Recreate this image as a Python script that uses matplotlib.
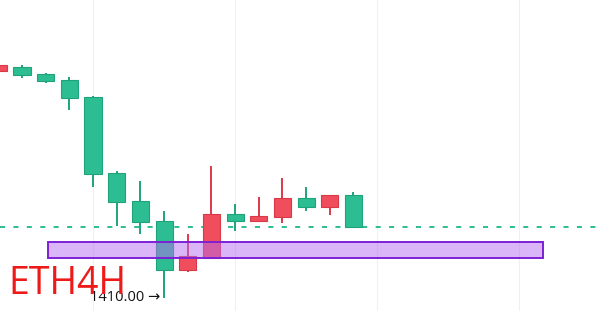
import matplotlib
matplotlib.use("Agg")
import matplotlib.pyplot as plt
from matplotlib.patches import Rectangle

# ---- data (ETH 4H candles) ----
opens  = [1864.0, 1872.0, 1856.8, 1845.4, 1812.0, 1658.8, 1604.0, 1562.8, 1465.4, 1488.8, 1576.8, 1563.4, 1572.0, 1608.8, 1592.0, 1615.4]
closes = [1875.4, 1855.4, 1844.0, 1810.0, 1657.4, 1602.0, 1560.8, 1465.4, 1493.4, 1576.8, 1563.4, 1573.4, 1608.8, 1592.0, 1615.4, 1552.0]
highs  = [1877.4, 1875.4, 1858.8, 1850.8, 1813.4, 1663.4, 1644.0, 1583.4, 1537.4, 1673.4, 1596.8, 1610.8, 1650.0, 1632.0, 1615.4, 1620.8]
lows   = [1863.4, 1848.8, 1840.0, 1785.4, 1630.8, 1554.0, 1537.4, 1410.0, 1460.8, 1486.8, 1543.4, 1563.4, 1560.0, 1583.4, 1575.4, 1548.8]
last_price = 1552.0
low_label = "1410.00 →"
low_price = 1410.0
low_index = 7
zone_low, zone_high = 1488.8, 1520.8
zone_start, zone_end = 2.1, 23.0
title_text = "ETH4H"
grid_x = [4, 10, 16, 22]

UP_FILL, UP_EDGE = "#f04e5c", "#d83a48"
DN_FILL, DN_EDGE = "#2dbd93", "#1fa37b"

fig = plt.figure(figsize=(6.0, 3.11), dpi=100)
ax = fig.add_axes([0, 0, 1, 1])
ax.set_xlim(0.07, 25.42)
ax.set_ylim(1383.4, 2005.4)
ax.axis("off")

for gx in grid_x:
    ax.axvline(gx, color="#f0f0f0", lw=0.8, zorder=0)

ax.axhline(last_price, color="#2dbd93", lw=1.4, ls=(0, (2.6, 4.3)), zorder=1)

w = 0.72
for i, (o, c, h, l) in enumerate(zip(opens, closes, highs, lows)):
    up = c >= o
    fc, ec = (UP_FILL, UP_EDGE) if up else (DN_FILL, DN_EDGE)
    ax.vlines(i, l, h, color=ec, lw=1.4, zorder=2)
    bottom, top = min(o, c), max(o, c)
    ax.add_patch(Rectangle((i - w / 2, bottom), w, max(top - bottom, 1.0),
                           facecolor=fc, edgecolor=ec, lw=0.8, zorder=3))

ax.add_patch(Rectangle((zone_start, zone_low), zone_end - zone_start, zone_high - zone_low,
                       facecolor="#b66cf0", alpha=0.5, edgecolor="none", zorder=4))
ax.add_patch(Rectangle((zone_start, zone_low), zone_end - zone_start, zone_high - zone_low,
                       facecolor="none", edgecolor="#7d1fd6", lw=1.4, zorder=5))

ax.text(low_index - 0.15, low_price, low_label, ha="right", va="center",
        fontsize=10.5, color="#111111", family=["Open Sans", "DejaVu Sans"], zorder=6)

fig.text(8 / 600, 1 - 294 / 311, title_text, ha="left", va="baseline",
         fontsize=27, color="#ee1a1a", family=["Open Sans", "DejaVu Sans"], zorder=6)

fig.savefig("out.png", dpi=100)
